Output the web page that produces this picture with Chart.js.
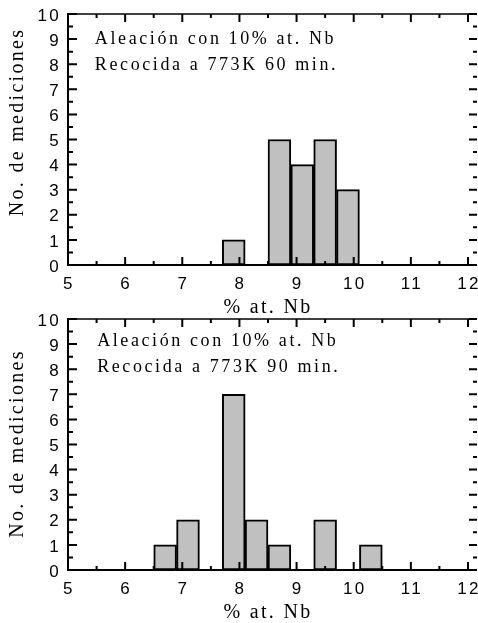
<!DOCTYPE html>
<html>
<head>
<meta charset="utf-8">
<script src="https://cdn.jsdelivr.net/npm/chart.js@4.4.0/dist/chart.umd.min.js"></script>
<style>
html, body { margin: 0; padding: 0; background: #fff; }
body { width: 478px; height: 623px; position: relative; overflow: hidden; }
canvas { position: absolute; left: 0; }
#chart60 { top: 0; }
#chart90 { top: 305px; }
</style>
</head>
<body>
<canvas id="chart60" width="478" height="318"></canvas>
<canvas id="chart90" width="478" height="318"></canvas>
<script>
// histogram bins of 0.4 % at. Nb, given by their centres
const binCenters = [6.7, 7.1, 7.5, 7.9, 8.3, 8.7, 9.1, 9.5, 9.9, 10.3];
const counts60 = [0, 0, 0, 1, 0, 5, 4, 5, 3, 0];
const counts90 = [1, 2, 0, 7, 2, 1, 0, 2, 0, 1];

const xTicks = [5, 6, 7, 8, 9, 10, 11, 12];
const yTicks = [0, 1, 2, 3, 4, 5, 6, 7, 8, 9, 10];

const xTitle = '% at. Nb';
const yTitle = 'No. de mediciones';
const notes60 = ['Aleación con 10% at. Nb', 'Recocida a 773K 60 min.'];
const notes90 = ['Aleación con 10% at. Nb', 'Recocida a 773K 90 min.'];

const sans = '"Liberation Sans", Arial, sans-serif';
const serif = '"Liberation Serif", "Times New Roman", serif';

// frame with inward ticks on all four sides, y title and the text notes
const framePlugin = {
    id: 'frame',
    beforeDraw(chart) {
        chart.ctx.letterSpacing = '2.3px';
    },
    afterDatasetsDraw(chart) {
        const { ctx, chartArea: a, scales: { x, y } } = chart;
        ctx.save();
        ctx.strokeStyle = '#000';

        // left and bottom axis
        ctx.lineWidth = 2;
        ctx.beginPath();
        ctx.moveTo(a.left, a.top - 1);
        ctx.lineTo(a.left, a.bottom);
        ctx.lineTo(a.right + 1, a.bottom);
        ctx.stroke();

        // top line
        ctx.lineWidth = 1.5;
        ctx.beginPath();
        ctx.moveTo(a.left, a.top);
        ctx.lineTo(a.right + 1, a.top);
        ctx.stroke();

        ctx.lineWidth = 2;
        ctx.beginPath();
        for (let v = x.min; v <= x.max; v += 0.5) {
            const px = x.getPixelForValue(v);
            const len = Number.isInteger(v) ? 8 : 4;
            ctx.moveTo(px, a.bottom);
            ctx.lineTo(px, a.bottom - len);
            ctx.moveTo(px, a.top);
            ctx.lineTo(px, a.top + len);
        }
        for (let v = y.min; v <= y.max; v += 0.5) {
            const py = y.getPixelForValue(v);
            const major = Number.isInteger(v);
            ctx.moveTo(a.left, py);
            ctx.lineTo(a.left + (major ? 9 : 5), py);
            ctx.moveTo(a.right + 9, py);
            ctx.lineTo(a.right + (major ? 1 : 5), py);
        }
        ctx.stroke();
        ctx.restore();
    },
    afterDraw(chart, args, opts) {
        const { ctx, scales: { x, y } } = chart;
        ctx.save();
        ctx.fillStyle = '#000';

        // notes
        ctx.letterSpacing = '2.6px';
        ctx.font = '18px ' + serif;
        ctx.textAlign = 'left';
        ctx.textBaseline = 'alphabetic';
        opts.notes.forEach((line, i) => {
            ctx.fillText(line, x.getPixelForValue(opts.noteX), y.getPixelForValue(opts.noteY[i]));
        });

        // y axis title
        ctx.letterSpacing = '2.3px';
        ctx.font = '20px ' + serif;
        ctx.textAlign = 'center';
        ctx.textBaseline = 'middle';
        ctx.translate(18, y.getPixelForValue(opts.yTitleAt));
        ctx.rotate(-Math.PI / 2);
        ctx.fillText(yTitle, 0, 0);
        ctx.restore();
    }
};

function makeChart(id, counts, notes, noteY, noteX, yTitleAt) {
    return new Chart(document.getElementById(id), {
        type: 'bar',
        data: {
            datasets: [{
                data: binCenters.map((c, i) => ({ x: c, y: counts[i] })),
                backgroundColor: '#c0c0c0',
                borderColor: '#000',
                borderWidth: 2,
                borderSkipped: false,
                barPercentage: 1,
                categoryPercentage: 1
            }]
        },
        options: {
            responsive: false,
            animation: false,
            events: [],
            layout: { padding: { top: 14, right: 10, left: 0, bottom: 0 } },
            plugins: {
                legend: { display: false },
                tooltip: { enabled: false },
                frame: { notes: notes, noteX: noteX, noteY: noteY, yTitleAt: yTitleAt }
            },
            scales: {
                x: {
                    type: 'linear',
                    min: 5,
                    max: 12,
                    offset: false,
                    grid: { display: false, offset: false, drawTicks: false },
                    border: { display: false },
                    afterBuildTicks: s => { s.ticks = xTicks.map(v => ({ value: v })); },
                    ticks: {
                        color: '#000',
                        font: { family: sans, size: 17 },
                        padding: 9,
                        labelOffset: 1,
                        maxRotation: 0,
                        autoSkip: false
                    },
                    title: {
                        display: true,
                        text: xTitle,
                        color: '#000',
                        font: { family: serif, size: 20, lineHeight: 1 },
                        padding: 0
                    },
                    afterFit: s => { s.height = 53; s.paddingLeft = 0; s.paddingRight = 0; }
                },
                y: {
                    min: 0,
                    max: 10,
                    grid: { display: false, drawTicks: false },
                    border: { display: false },
                    afterBuildTicks: s => { s.ticks = yTicks.map(v => ({ value: v })); },
                    ticks: {
                        color: '#000',
                        font: { family: sans, size: 17 },
                        padding: 7,
                        labelOffset: 2,
                        autoSkip: false
                    },
                    afterFit: s => { s.width = 68; s.paddingTop = 0; s.paddingBottom = 0; }
                }
            }
        },
        plugins: [framePlugin]
    });
}

makeChart('chart60', counts60, notes60, [8.8, 7.77], 5.47, 5.7);
makeChart('chart90', counts90, notes90, [8.94, 7.9], 5.51, 5.04);
</script>
</body>
</html>
